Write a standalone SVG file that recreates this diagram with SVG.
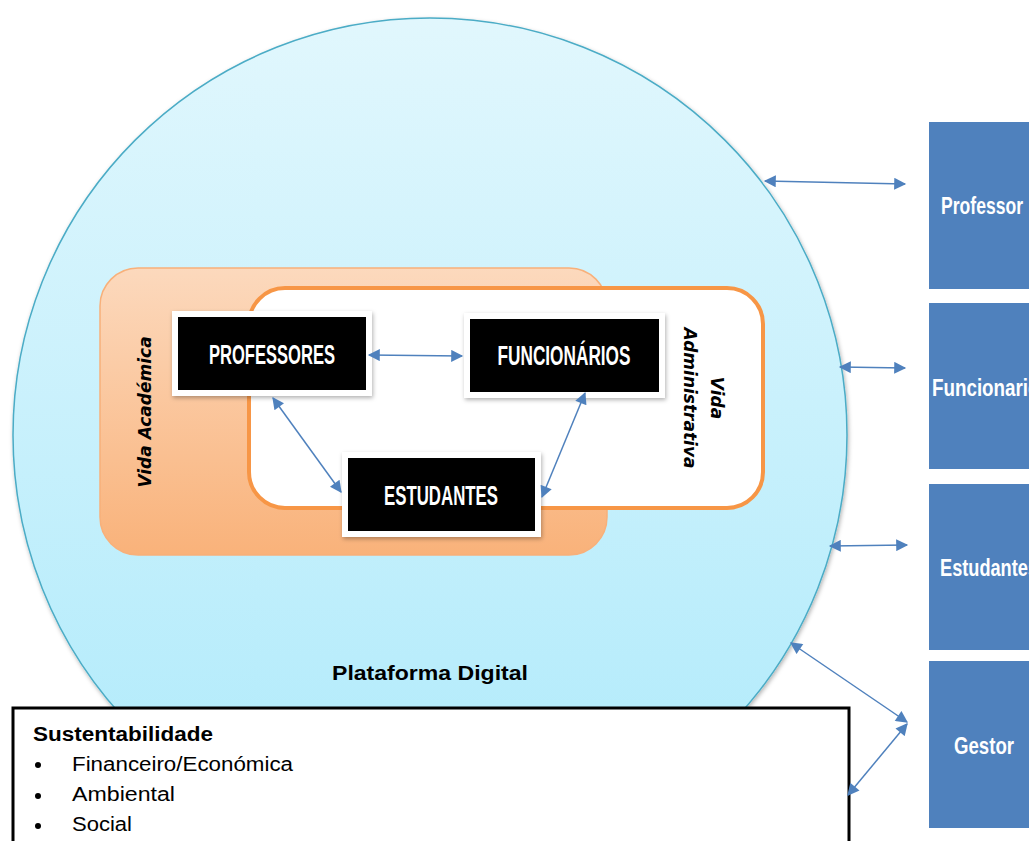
<svg xmlns="http://www.w3.org/2000/svg" width="1029" height="841" viewBox="0 0 1029 841">
<defs>
<linearGradient id="gc" x1="0" y1="0" x2="0" y2="1"><stop offset="0" stop-color="#e1f7fd"/><stop offset="1" stop-color="#aeeafb"/></linearGradient>
<linearGradient id="go" x1="0" y1="0" x2="0" y2="1"><stop offset="0" stop-color="#fcd9bd"/><stop offset="1" stop-color="#f9b27a"/></linearGradient>
<filter id="sh" x="-10%" y="-10%" width="130%" height="130%"><feDropShadow dx="1" dy="2" stdDeviation="2" flood-color="#000" flood-opacity="0.3"/></filter>
<marker id="ah" viewBox="0 0 10 10" refX="9" refY="5" markerWidth="9" markerHeight="8" orient="auto-start-reverse"><path d="M0,0 L10,5 L0,10 z" fill="#4f81bd"/></marker>
<style>
.con{stroke:#4f81bd;stroke-width:1.5;fill:none;marker-start:url(#ah);marker-end:url(#ah)}
.blk{fill:#000}
.wbox{fill:#fff;filter:url(#sh)}
.bt{font-family:"Liberation Sans Narrow","Liberation Sans",Arial,sans-serif;font-weight:bold;fill:#fff;font-size:27px}
.side{fill:#4f81bd}
.st{font-family:"Liberation Sans Narrow","Liberation Sans",Arial,sans-serif;font-weight:bold;fill:#fff;font-size:24px}
.lbl{font-family:"DejaVu Sans","Liberation Sans",sans-serif;font-weight:bold;font-style:italic;fill:#000;font-size:17px}
.txt{font-family:"Liberation Sans",Arial,sans-serif;fill:#000;font-size:20px}
</style>
</defs>
<rect width="1029" height="841" fill="#fff"/>
<g id="plataforma">
<circle cx="430" cy="435" r="417" fill="url(#gc)" stroke="#4bacc6" stroke-width="1.5" filter="url(#sh)"/>
<text x="430" y="680" text-anchor="middle" style="font-family:'Liberation Sans',Arial,sans-serif;font-weight:bold;font-size:20px" textLength="196" lengthAdjust="spacingAndGlyphs">Plataforma Digital</text>
</g>
<g id="vida-academica">
<rect x="100" y="268" width="507" height="287" rx="38" fill="url(#go)" stroke="#f8b07a" stroke-width="1.5"/>
<text transform="translate(151,412) rotate(-90)" text-anchor="middle" class="lbl">Vida Académica</text>
</g>
<g id="vida-administrativa">
<rect x="249" y="288" width="514" height="220" rx="36" fill="#fff" stroke="#f79646" stroke-width="4"/>
<text transform="translate(711,398) rotate(90)" text-anchor="middle" class="lbl">Vida</text>
<text transform="translate(684,398) rotate(90)" text-anchor="middle" class="lbl">Administrativa</text>
</g>
<g id="professores">
<rect x="172" y="311" width="200" height="85" class="wbox"/>
<rect x="178" y="317" width="188" height="73" class="blk"/>
<text x="272" y="364" text-anchor="middle" class="bt" textLength="126" lengthAdjust="spacingAndGlyphs">PROFESSORES</text>
</g>
<g id="funcionarios">
<rect x="464" y="313" width="201" height="85" class="wbox"/>
<rect x="470" y="319" width="189" height="73" class="blk"/>
<text x="564" y="365" text-anchor="middle" class="bt" textLength="133" lengthAdjust="spacingAndGlyphs">FUNCIONÁRIOS</text>
</g>
<g id="estudantes">
<rect x="342" y="452" width="199" height="85" class="wbox"/>
<rect x="348" y="458" width="187" height="73" class="blk"/>
<text x="441" y="505" text-anchor="middle" class="bt" textLength="114" lengthAdjust="spacingAndGlyphs">ESTUDANTES</text>
</g>
<g id="sustentabilidade">
<rect x="13" y="708" width="836" height="140" fill="#fff" stroke="#000" stroke-width="3"/>
<text x="33" y="741" class="txt" style="font-weight:bold" textLength="180" lengthAdjust="spacingAndGlyphs">Sustentabilidade</text>
<circle cx="38" cy="765" r="3" fill="#000"/>
<circle cx="38" cy="796" r="3" fill="#000"/>
<circle cx="38" cy="826" r="3" fill="#000"/>
<text x="72" y="771" class="txt" textLength="221" lengthAdjust="spacingAndGlyphs">Financeiro/Económica</text>
<text x="72" y="801" class="txt" textLength="103" lengthAdjust="spacingAndGlyphs">Ambiental</text>
<text x="72" y="831" class="txt" textLength="60" lengthAdjust="spacingAndGlyphs">Social</text>
</g>
<g id="professor">
<rect x="929" y="122" width="100" height="167" class="side"/>
<text x="941" y="214" class="st" textLength="82" lengthAdjust="spacingAndGlyphs">Professor</text>
</g>
<g id="funcionarios-side">
<rect x="929" y="303" width="100" height="166" class="side"/>
<text x="932" y="396" class="st" textLength="118" lengthAdjust="spacingAndGlyphs">Funcionarios</text>
</g>
<g id="estudante">
<rect x="929" y="484" width="100" height="166" class="side"/>
<text x="940" y="576" class="st" textLength="98" lengthAdjust="spacingAndGlyphs">Estudantes</text>
</g>
<g id="gestor">
<rect x="929" y="661" width="100" height="167" class="side"/>
<text x="954" y="754" class="st" textLength="60" lengthAdjust="spacingAndGlyphs">Gestor</text>
</g>
<g id="connectors">
<line x1="369" y1="355" x2="462" y2="356" class="con"/>
<line x1="273" y1="398" x2="341" y2="492" class="con"/>
<line x1="585" y1="393" x2="542" y2="497" class="con"/>
<line x1="765" y1="181" x2="905" y2="184" class="con"/>
<line x1="840" y1="367" x2="905" y2="368" class="con"/>
<line x1="830" y1="546" x2="907" y2="545" class="con"/>
<line x1="791" y1="643" x2="907" y2="722" class="con"/>
<line x1="848" y1="795" x2="907" y2="724" class="con"/>
</g>
</svg>
